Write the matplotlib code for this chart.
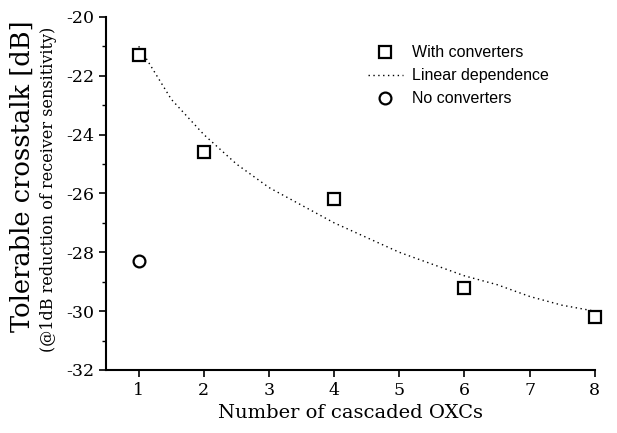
import matplotlib.pyplot as plt
import numpy as np

# 数据
oxcs_with = [1, 2, 4, 6, 8]
xt_with = [-21.3, -24.6, -26.2, -29.2, -30.2]
oxcs_none = [1]
xt_none = [-28.3]
# 线性依赖曲线 (读取的点)
lin_x = [1, 1.5, 2, 2.5, 3, 3.5, 4, 4.5, 5, 5.5, 6, 6.5, 7, 7.5, 8]
lin_y = [-21.0, -22.8, -24.0, -25.0, -25.8, -26.4, -27.0, -27.5, -28.0,
         -28.4, -28.8, -29.1, -29.5, -29.8, -30.0]

serif = ['DejaVu Serif']
sans = ['Liberation Sans', 'DejaVu Sans']

fig = plt.figure(figsize=(6.17, 4.33), dpi=100)
ax = fig.add_axes([0.172, 0.1455, 0.792, 0.8155])

ax.plot(lin_x, lin_y, color='black', linestyle=(0, (1, 2.5)), linewidth=1.0,
        label='Linear dependence')
ax.plot(oxcs_with, xt_with, linestyle='none', marker='s', markersize=8.5,
        markerfacecolor='white', markeredgecolor='black', markeredgewidth=1.6,
        label='With converters', clip_on=False)
ax.plot(oxcs_none, xt_none, linestyle='none', marker='o', markersize=8.5,
        markerfacecolor='white', markeredgecolor='black', markeredgewidth=1.6,
        label='No converters')

ax.set_xlim(0.5, 8)
ax.set_ylim(-32, -20)
ax.set_xticks(range(1, 9))
ax.set_yticks(np.arange(-32, -19, 2))
ax.set_yticks(np.arange(-31, -20, 2), minor=True)
ax.set_yticklabels(['%d' % v for v in np.arange(-32, -19, 2)])

for lab in ax.get_xticklabels() + ax.get_yticklabels():
    lab.set_family(serif)
    lab.set_fontsize(12.5)

ax.spines['right'].set_color('none')
ax.spines['top'].set_color('none')
ax.spines['left'].set_linewidth(1.5)
ax.spines['bottom'].set_linewidth(1.5)
ax.tick_params(axis='both', which='major', direction='out', length=5, width=1.2)
ax.tick_params(axis='y', which='minor', direction='out', length=3, width=1)

ax.set_xlabel('Number of cascaded OXCs', family=serif, fontsize=14, labelpad=4)

fig.text(0.036, 0.593, 'Tolerable crosstalk [dB]', rotation=90, family=serif,
         fontsize=18.5, ha='center', va='center')
fig.text(0.078, 0.563, '(@1dB reduction of receiver sensitivity)', rotation=90,
         family=serif, fontsize=11.5, ha='center', va='center')

h, l = ax.get_legend_handles_labels()
order = [1, 0, 2]
leg = ax.legend([h[i] for i in order], [l[i] for i in order],
                loc='upper left', bbox_to_anchor=(0.506, 0.96), frameon=False,
                prop={'family': sans, 'size': 11.5}, handlelength=2.2,
                labelspacing=0.5, handletextpad=0.6)

plt.savefig('out.png', dpi=100)
